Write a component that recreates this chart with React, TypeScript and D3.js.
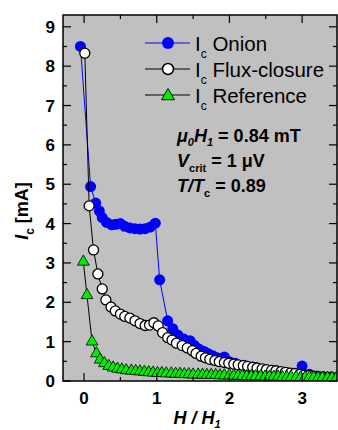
import React from 'react';
import * as d3 from 'd3';

// data: [H/H1, Ic (mA)]
const onion: [number, number][] = [
  [-0.05, 8.5], [0.09, 4.94], [0.16, 4.52], [0.21, 4.32], [0.25, 4.15], [0.31, 4.03],
  [0.38, 3.97], [0.44, 3.98], [0.5, 4.0], [0.56, 3.93], [0.63, 3.89], [0.7, 3.87],
  [0.77, 3.86], [0.84, 3.87], [0.91, 3.91], [0.98, 4.01], [1.04, 2.57], [1.15, 1.53],
  [1.22, 1.33], [1.29, 1.17], [1.37, 1.07], [1.46, 1.02], [1.52, 0.9], [1.58, 0.81],
  [1.65, 0.75], [1.71, 0.69], [1.77, 0.64], [1.83, 0.59], [1.93, 0.61], [2.0, 0.49],
  [2.08, 0.45], [2.2, 0.4], [2.35, 0.34], [2.5, 0.29], [2.65, 0.25], [2.8, 0.21],
  [2.9, 0.19], [3.0, 0.38], [3.1, 0.17], [3.2, 0.13], [3.3, 0.11], [3.4, 0.1], [3.5, 0.09]
];

const fluxClosure: [number, number][] = [
  [0.01, 8.33], [0.07, 4.45], [0.13, 3.33], [0.19, 2.72], [0.25, 2.34], [0.3, 2.06],
  [0.37, 1.88], [0.43, 1.78], [0.5, 1.7], [0.56, 1.64], [0.63, 1.6], [0.7, 1.53],
  [0.77, 1.46], [0.84, 1.41], [0.9, 1.42], [0.96, 1.48], [1.02, 1.4], [1.08, 1.23],
  [1.15, 1.1], [1.21, 1.04], [1.27, 0.96], [1.35, 0.9], [1.42, 0.84], [1.49, 0.77],
  [1.54, 0.7], [1.61, 0.63], [1.67, 0.59], [1.73, 0.55], [1.8, 0.52], [1.86, 0.49],
  [1.93, 0.47], [1.99, 0.45], [2.06, 0.43], [2.12, 0.41], [2.19, 0.39], [2.25, 0.37],
  [2.32, 0.35], [2.38, 0.33], [2.45, 0.31], [2.51, 0.29], [2.58, 0.27], [2.64, 0.26],
  [2.71, 0.24], [2.77, 0.22], [2.84, 0.2], [2.9, 0.19], [2.97, 0.17], [3.03, 0.15],
  [3.1, 0.14], [3.16, 0.12], [3.23, 0.11], [3.29, 0.1], [3.36, 0.09], [3.42, 0.08], [3.49, 0.07]
];

const reference: [number, number][] = [
  [-0.01, 3.03], [0.04, 2.18], [0.11, 1.0], [0.17, 0.7], [0.22, 0.54], [0.28, 0.45],
  [0.34, 0.38], [0.4, 0.34], [0.46, 0.31], [0.52, 0.29], [0.58, 0.27], [0.65, 0.26],
  [0.71, 0.25], [0.77, 0.24], [0.83, 0.23], [0.89, 0.22], [0.95, 0.21], [1.01, 0.2],
  [1.07, 0.2], [1.13, 0.19], [1.2, 0.19], [1.26, 0.18], [1.32, 0.18], [1.38, 0.17],
  [1.44, 0.17], [1.5, 0.16], [1.57, 0.16], [1.63, 0.16], [1.69, 0.15], [1.75, 0.15],
  [1.81, 0.15], [1.87, 0.14], [1.93, 0.14], [2.0, 0.14], [2.06, 0.13], [2.12, 0.13],
  [2.18, 0.13], [2.24, 0.12], [2.3, 0.12], [2.36, 0.12], [2.43, 0.12], [2.49, 0.11],
  [2.55, 0.11], [2.61, 0.11], [2.67, 0.11], [2.73, 0.1], [2.79, 0.1], [2.85, 0.1],
  [2.92, 0.1], [2.98, 0.09], [3.04, 0.09], [3.1, 0.09], [3.16, 0.09], [3.22, 0.08],
  [3.28, 0.08], [3.35, 0.08], [3.41, 0.08], [3.47, 0.07]
];

const xMajor = [0, 1, 2, 3];
const xMinor = [-0.5, 0.5, 1.5, 2.5];
const yMajor = [0, 1, 2, 3, 4, 5, 6, 7, 8, 9];
const yMinor = [0.5, 1.5, 2.5, 3.5, 4.5, 5.5, 6.5, 7.5, 8.5];

const W = 338;
const H = 430;
const plot = { left: 63, right: 337, top: 15, bottom: 381 };

const x = d3.scaleLinear().domain([-0.29, 3.48]).range([plot.left, plot.right]);
const y = d3.scaleLinear().domain([0, 9.3]).range([plot.bottom, plot.top]);

const line = d3.line<[number, number]>()
  .x(d => x(d[0]))
  .y(d => y(d[1]));

const tri = d3.symbol().type(d3.symbolTriangle).size(60)() as string;

const font = 'Arial, "Liberation Sans", Helvetica, sans-serif';

export default function App() {
  const inX = (v: number) => v >= x.domain()[0] && v <= x.domain()[1];
  return (
    <svg width={W} height={H} style={{ position: 'absolute', left: 0, top: 0 }} fontFamily={font}>
      <defs>
        <clipPath id="plotclip">
          <rect x={plot.left} y={plot.top} width={plot.right - plot.left} height={plot.bottom - plot.top} />
        </clipPath>
      </defs>
      <rect x={plot.left} y={plot.top} width={plot.right - plot.left} height={plot.bottom - plot.top} fill="#c0c0c0" />

      <g clipPath="url(#plotclip)">
        {/* onion */}
        <path d={line(onion) as string} fill="none" stroke="#0000ff" strokeWidth={1} />
        {onion.map((d, i) => (
          <circle key={'o' + i} cx={x(d[0])} cy={y(d[1])} r={5.5} fill="#0000ff" />
        ))}
        {/* flux-closure */}
        <path d={line(fluxClosure) as string} fill="none" stroke="#000" strokeWidth={1} />
        {fluxClosure.map((d, i) => (
          <circle key={'f' + i} cx={x(d[0])} cy={y(d[1])} r={5} fill="#fff" stroke="#000" strokeWidth={1.3} />
        ))}
        {/* reference */}
        <path d={line(reference) as string} fill="none" stroke="#000" strokeWidth={1} />
        {reference.map((d, i) => (
          <path key={'r' + i} d={tri} transform={`translate(${x(d[0])},${y(d[1])})`} fill="#00ee00" stroke="#000" strokeWidth={0.8} />
        ))}
      </g>

      {/* ticks on all four sides */}
      <g stroke="#000" strokeWidth={1.2}>
        {xMajor.map(v => (
          <g key={'xm' + v}>
            <line x1={x(v)} x2={x(v)} y1={plot.bottom} y2={plot.bottom - 8} />
            <line x1={x(v)} x2={x(v)} y1={plot.top} y2={plot.top + 8} />
          </g>
        ))}
        {xMinor.filter(inX).map(v => (
          <g key={'xn' + v}>
            <line x1={x(v)} x2={x(v)} y1={plot.bottom} y2={plot.bottom - 4} />
            <line x1={x(v)} x2={x(v)} y1={plot.top} y2={plot.top + 4} />
          </g>
        ))}
        {yMajor.map(v => (
          <g key={'ym' + v}>
            <line x1={plot.left} x2={plot.left + 8} y1={y(v)} y2={y(v)} />
            <line x1={plot.right} x2={plot.right - 8} y1={y(v)} y2={y(v)} />
          </g>
        ))}
        {yMinor.map(v => (
          <g key={'yn' + v}>
            <line x1={plot.left} x2={plot.left + 4} y1={y(v)} y2={y(v)} />
            <line x1={plot.right} x2={plot.right - 4} y1={y(v)} y2={y(v)} />
          </g>
        ))}
      </g>
      <rect x={plot.left} y={plot.top} width={plot.right - plot.left} height={plot.bottom - plot.top}
        fill="none" stroke="#000" strokeWidth={1.5} />

      {/* tick labels */}
      <g fontSize={17} fontWeight="bold" fill="#000">
        {yMajor.map(v => (
          <text key={'yl' + v} x={55} y={y(v)} dy="0.36em" textAnchor="end">{v}</text>
        ))}
        {xMajor.map(v => (
          <text key={'xl' + v} x={x(v)} y={404} textAnchor="middle">{v}</text>
        ))}
      </g>

      {/* axis titles */}
      <text x={197} y={424} textAnchor="middle" fontSize={18} fontWeight="bold" fontStyle="italic">
        H / H<tspan fontSize={11} dy={4}>1</tspan>
      </text>
      <text transform="translate(28,211) rotate(-90)" textAnchor="middle" fontSize={18} fontWeight="bold">
        <tspan fontStyle="italic">I</tspan>
        <tspan fontSize={12} dy={6}>c</tspan>
        <tspan dy={-6}> [mA]</tspan>
      </text>

      {/* legend */}
      <g>
        <line x1={145} x2={190} y1={43} y2={43} stroke="#0000ff" strokeWidth={1} />
        <circle cx={168} cy={43} r={6} fill="#0000ff" />
        <line x1={145} x2={190} y1={69} y2={69} stroke="#000" strokeWidth={1} />
        <circle cx={168} cy={69} r={5.5} fill="#fff" stroke="#000" strokeWidth={1.5} />
        <line x1={145} x2={190} y1={95} y2={95} stroke="#000" strokeWidth={1} />
        <path d={tri} transform="translate(168,96) scale(1.1)" fill="#00ee00" stroke="#000" strokeWidth={0.8} />
        {[['Onion', 51], ['Flux-closure', 77], ['Reference', 103]].map(([t, by]) => (
          <text key={t as string} x={195} y={by as number} fontSize={20.5}>
            I<tspan fontSize={12} dy={7}>c</tspan><tspan dy={-7}> {t}</tspan>
          </text>
        ))}
      </g>

      {/* annotation */}
      <g fontSize={18} fontWeight="bold">
        <text x={177} y={142}>
          <tspan fontStyle="italic">μ</tspan><tspan fontStyle="italic" fontSize={11} dy={4}>0</tspan>
          <tspan fontStyle="italic" dy={-4}>H</tspan><tspan fontStyle="italic" fontSize={11} dy={4}>1</tspan>
          <tspan dy={-4}> = 0.84 mT</tspan>
        </text>
        <text x={177} y={167}>
          <tspan fontStyle="italic">V</tspan><tspan fontSize={11} dy={5}>crit</tspan>
          <tspan dy={-5}> = 1 μV</tspan>
        </text>
        <text x={177} y={192}>
          <tspan fontStyle="italic">T/T</tspan><tspan fontSize={11} dy={5}>c</tspan>
          <tspan dy={-5}> = 0.89</tspan>
        </text>
      </g>
    </svg>
  );
}
